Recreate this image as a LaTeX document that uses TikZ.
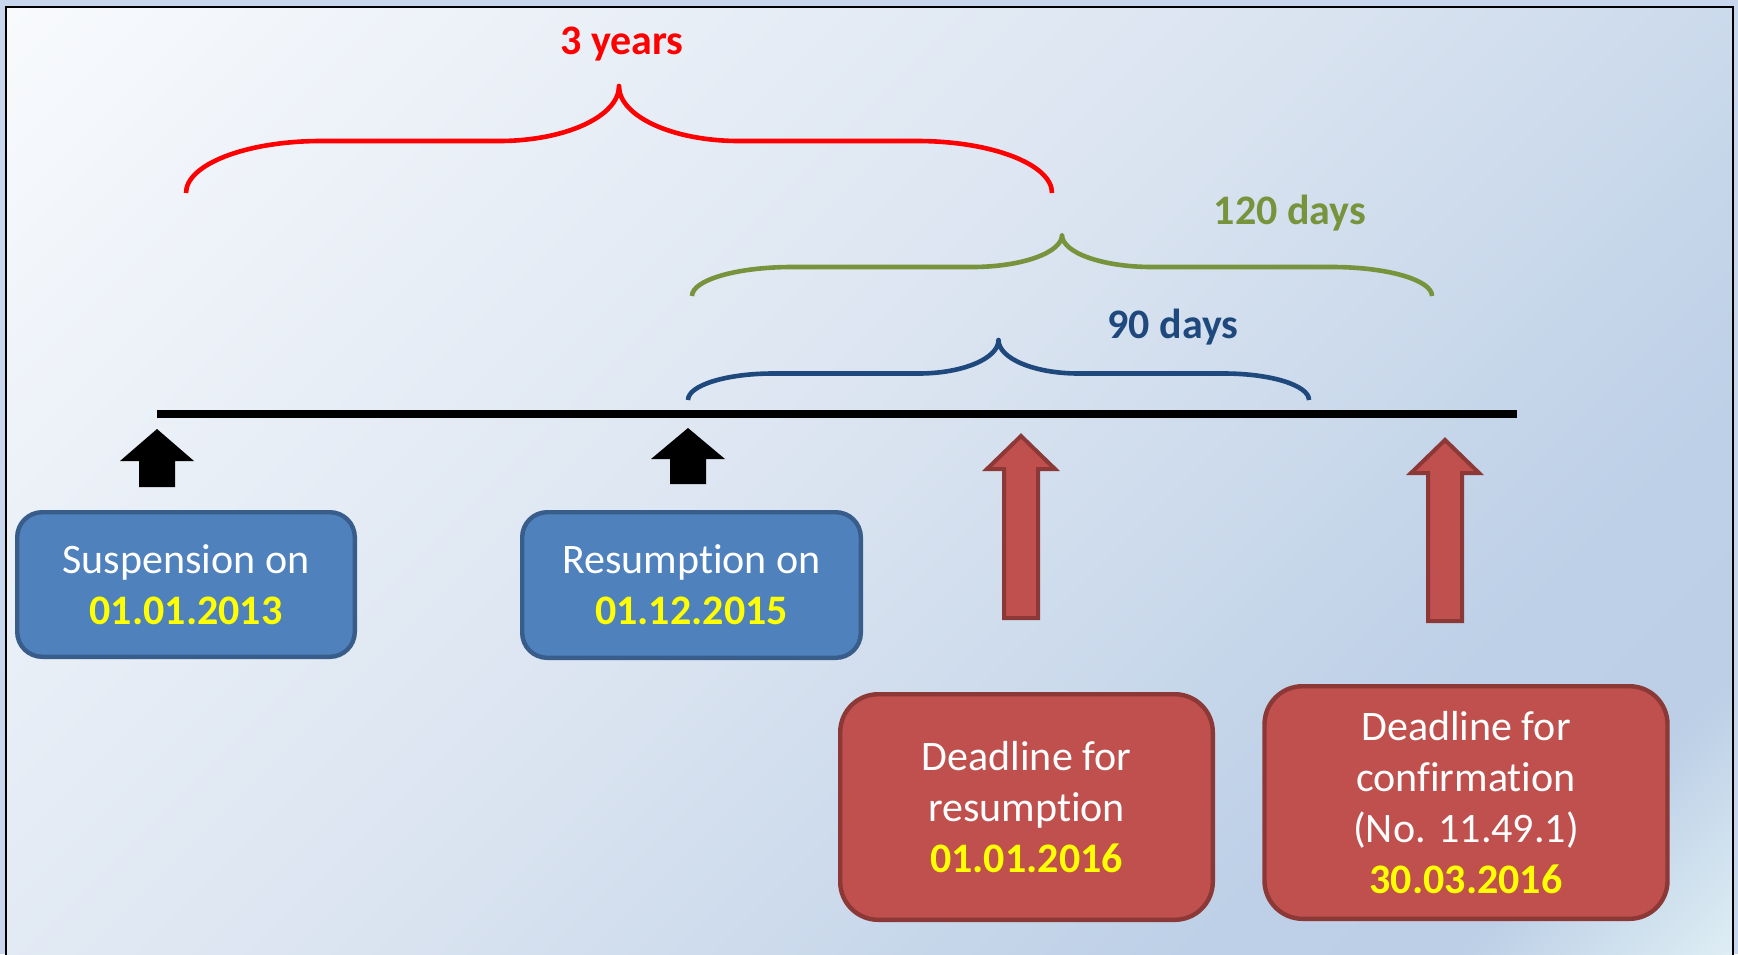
\documentclass[tikz,border=0pt]{standalone}
\usepackage{fontspec}
\setmainfont[Ligatures={NoCommon,NoContextual,NoRare}]{Carlito}
\definecolor{bfill}{HTML}{4F81BD}
\definecolor{bborder}{HTML}{385D8A}
\definecolor{rfill}{HTML}{C0504D}
\definecolor{rborder}{HTML}{8C3836}
\definecolor{dyellow}{HTML}{FFFF00}
\definecolor{bgreen}{HTML}{77933C}
\definecolor{bnavy}{HTML}{1F497D}
\definecolor{bred}{HTML}{FF0000}
\definecolor{bgout}{HTML}{C9D7EE}
\definecolor{bgA}{HTML}{F8FAFD}
\definecolor{bgB}{HTML}{D9E3F0}
\definecolor{bgC}{HTML}{BDD0E7}
\definecolor{bgD}{HTML}{BCCFE6}
\definecolor{bgE}{HTML}{DEEDF4}
\pgfdeclarehorizontalshading{bgshade}{100bp}{color(0bp)=(bgA); color(14.6bp)=(bgA); color(50bp)=(bgB); color(71.2bp)=(bgC); color(78.3bp)=(bgD); color(85.4bp)=(bgE); color(100bp)=(bgE)}
\newcommand\boxfont{\fontsize{21}{25.5}\selectfont}
\newcommand\datetxt[1]{\textcolor{dyellow}{\bfseries #1}}
\newcommand\tlbrace[8]{%
  \pgfmathsetmacro\bxm{(#2+#3)/2}%
  \draw[bracestyle, #1]
    (#2,#4) .. controls (#2,{#4-0.552*(#4-#5)}) and ({#2+0.448*#7},#5) .. ({#2+#7},#5)
    -- ({\bxm-#8},#5) .. controls ({\bxm-0.448*#8},#5) and (\bxm,{#6+0.552*(#5-#6)}) .. (\bxm,#6)
    .. controls (\bxm,{#6+0.552*(#5-#6)}) and ({\bxm+0.448*#8},#5) .. ({\bxm+#8},#5)
    -- ({#3-#7},#5) .. controls ({#3-0.448*#7},#5) and (#3,{#4-0.552*(#4-#5)}) .. (#3,#4);}
\tikzset{
  bracestyle/.style={line width=2.3pt, line join=round},
  bluebox/.style={draw=bborder, fill=bfill, line width=2.2pt, rounded corners=12.5pt,
    text=white, align=center, font=\boxfont, inner sep=0pt},
  redbox/.style={draw=rborder, fill=rfill, line width=2.2pt, rounded corners=19pt,
    text=white, align=center, font=\boxfont, inner sep=0pt},
  lbl/.style={font=\boxfont\bfseries, anchor=base, inner sep=0pt},
  blackarrow/.style={fill=black},
  redarrow/.style={fill=rfill, draw=rborder, line width=2pt, line join=miter},
}
\begin{document}
\begin{tikzpicture}[x=0.5pt, y=-0.5pt]
\useasboundingbox (0,0) rectangle (1738,954);
\fill[bgout] (0,0) rectangle (1738,954);
\shade[shading=bgshade, shading angle=-45] (5.5,6.5) rectangle (1733,954);
\draw[line width=1pt, black] (5.5,960) -- (5.5,6.5) -- (1733,6.5) -- (1733,960);

% braces
\tlbrace{bred}{186}{1052}{193}{141}{86}{135}{120}
\tlbrace{bgreen}{692}{1432}{296}{267}{235}{100}{90}
\tlbrace{bnavy}{688}{1309}{400}{373.5}{340}{85}{80}

% labels
\node[lbl, text=bred] (lyears) at (622,54) {3 years};
\node[lbl, text=bgreen] (l120) at (1290,224) {120 days};
\node[lbl, text=bnavy] (l90) at (1173,338) {90 days};

% timeline
\coordinate (tstart) at (157,414);
\coordinate (tend) at (1517,414);
\draw[line width=4pt, black] (tstart) -- (tend);

% black block arrows
\fill[blackarrow] (157,429) -- (194,461) -- (175,461) -- (175,487) -- (139,487) -- (139,461) -- (120,461) -- cycle;
\fill[blackarrow] (688,428) -- (725,459) -- (706,459) -- (706,484) -- (670,484) -- (670,459) -- (651,459) -- cycle;

% red block arrows
\draw[redarrow] (1021,436) -- (1055,469) -- (1038,469) -- (1038,618) -- (1004,618) -- (1004,469) -- (987,469) -- cycle;
\draw[redarrow] (1445,440) -- (1479,473) -- (1462,473) -- (1462,621) -- (1428,621) -- (1428,473) -- (1411,473) -- cycle;

% boxes
\node[bluebox, minimum width=168.8pt, minimum height=72.3pt] (susp) at (186,584.5)
  {Suspension on\\\datetxt{01.01.2013}};
\node[bluebox, minimum width=169.3pt, minimum height=72.8pt] (resum) at (691.5,585)
  {Resumption on\\\datetxt{01.12.2015}};
\node[redbox, minimum width=186.3pt, minimum height=112.8pt] (dlres) at (1026.5,807)
  {Deadline for\\resumption\\\datetxt{01.01.2016}};
\node[redbox, minimum width=201.5pt, minimum height=116.3pt] (dlconf) at (1466,802.5)
  {Deadline for\\confirmation\\(No. 11.49.1)\\\datetxt{30.03.2016}};
\end{tikzpicture}
\end{document}
